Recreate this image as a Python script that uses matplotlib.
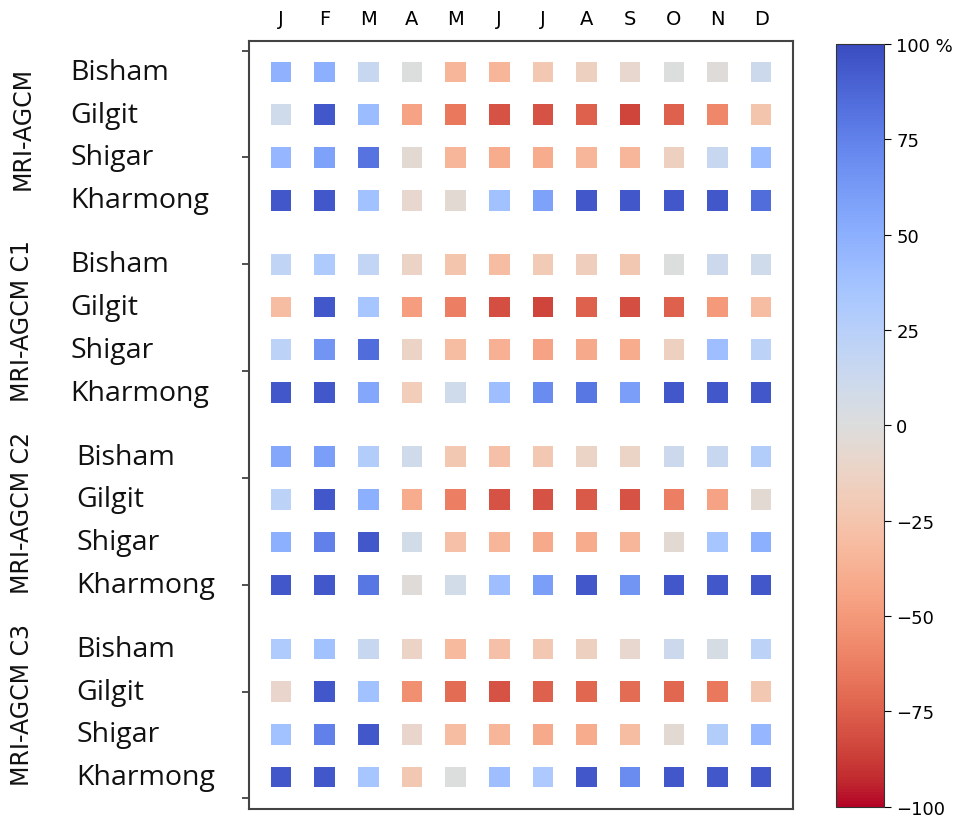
import numpy as np
import matplotlib
matplotlib.use('Agg')
import matplotlib.pyplot as plt

# Months and stations
months = ['J', 'F', 'M', 'A', 'M', 'J', 'J', 'A', 'S', 'O', 'N', 'D']
stations = ['Bisham', 'Gilgit', 'Shigar', 'Kharmong']
models = ['MRI-AGCM', 'MRI-AGCM C1', 'MRI-AGCM C2', 'MRI-AGCM C3']

# Percent change values (rows: stations, cols: months)
mri_agcm = [
    [48, 50, 15, 0, -35, -35, -22, -15, -8, 0, -2, 12],
    [10, 95, 42, -45, -65, -80, -80, -75, -85, -75, -58, -25],
    [45, 58, 82, -5, -35, -40, -40, -35, -35, -15, 15, 42],
    [95, 95, 38, -8, -5, 38, 58, 95, 95, 95, 95, 85],
]
mri_agcm_c1 = [
    [20, 30, 18, -12, -25, -30, -20, -17, -22, 0, 12, 10],
    [-30, 95, 35, -48, -62, -82, -85, -75, -82, -75, -50, -30],
    [22, 65, 85, -12, -30, -38, -45, -42, -40, -15, 40, 22],
    [95, 95, 55, -18, 10, 40, 70, 80, 60, 95, 95, 95],
]
mri_agcm_c2 = [
    [55, 60, 28, 10, -22, -28, -22, -12, -12, 12, 15, 28],
    [22, 95, 50, -40, -62, -80, -80, -77, -80, -62, -45, -5],
    [50, 75, 95, 8, -28, -35, -42, -40, -35, -5, 35, 50],
    [95, 95, 80, -2, 8, 40, 60, 95, 65, 95, 95, 95],
]
mri_agcm_c3 = [
    [30, 38, 15, -12, -32, -28, -22, -15, -8, 12, 5, 22],
    [-10, 95, 38, -55, -70, -80, -75, -72, -70, -72, -65, -22],
    [38, 75, 95, -10, -30, -35, -42, -40, -30, -5, 28, 45],
    [95, 95, 35, -22, 0, 40, 32, 95, 70, 95, 95, 95],
]
groups = [mri_agcm, mri_agcm_c1, mri_agcm_c2, mri_agcm_c3]

fig = plt.figure(figsize=(9.73, 8.2), dpi=100)
ax = fig.add_axes([0.256, 0.012, 0.559, 0.937])

gap = 4.5
xs, ys, vals = [], [], []
for g, data in enumerate(groups):
    for r, row in enumerate(data):
        for c, v in enumerate(row):
            xs.append(c)
            ys.append(g * gap + r)
            vals.append(v)

sc = ax.scatter(xs, ys, c=vals, cmap='coolwarm_r', vmin=-100, vmax=100,
                marker='s', s=220, linewidths=0)

ax.set_xlim(-0.73, 11.73)
ax.set_ylim(17.25, -0.73)

ax.xaxis.tick_top()
ax.set_xticks(range(12))
ax.set_xticklabels(months, fontsize=14)
ax.tick_params(axis='x', length=0, pad=9)

ax.set_yticks([-0.5, 2, 4.5, 7, 9.5, 12, 14.5, 17])
ax.set_yticklabels([])
ax.tick_params(axis='y', length=5, width=1.2, color='#333333')

for sp in ax.spines.values():
    sp.set_color('#444444')
    sp.set_linewidth(1.5)

# Station and model labels on the left
trans = ax.get_yaxis_transform()
for g, name in enumerate(models):
    xoff = -0.329 if g < 2 else -0.318
    for r, st in enumerate(stations):
        ax.text(xoff, g * gap + r, st, transform=trans, ha='left', va='center',
                fontsize=20.5, family=['Open Sans', 'DejaVu Sans'], color='#111111')
    ax.text(-0.417, g * gap + 1.5 - 0.2, name, transform=trans, rotation=90,
            ha='center', va='center', fontsize=17,
            family=['Liberation Sans Narrow', 'DejaVu Sans'], color='#111111')

# Colorbar
cax = fig.add_axes([0.859, 0.015, 0.05, 0.93])
cb = fig.colorbar(sc, cax=cax, ticks=[-100, -75, -50, -25, 0, 25, 50, 75, 100])
cb.ax.set_yticklabels(['\u2212100', '\u221275', '\u221250', '\u221225', '0',
                       '25', '50', '75', '100 %'])
cb.ax.tick_params(labelsize=13, length=5)
cb.outline.set_edgecolor('#333333')

plt.savefig('out.png', dpi=100)
